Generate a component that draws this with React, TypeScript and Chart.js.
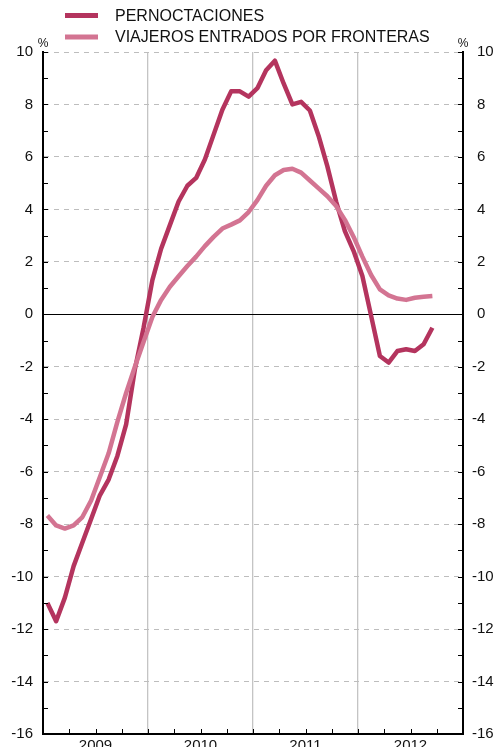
import React, { useEffect, useRef } from 'react';
import { Chart, registerables } from 'chart.js';

Chart.register(...registerables);

const years = ['2009', '2010', '2011', '2012'];
const seriesNames = ['PERNOCTACIONES', 'VIAJEROS ENTRADOS POR FRONTERAS'];
// Monthly values from Jan 2009 to Sep 2012 (%)
const pernoctaciones = [
  -11.0, -11.7, -10.8, -9.6, -8.7, -7.8, -6.9, -6.3, -5.4, -4.2, -2.1, -0.5,
  1.3, 2.5, 3.4, 4.3, 4.9, 5.2, 5.9, 6.85, 7.8, 8.5, 8.5, 8.3,
  8.62, 9.3, 9.67, 8.8, 8.0, 8.1, 7.77, 6.8, 5.64, 4.3, 3.17, 2.41,
  1.46, -0.06, -1.59, -1.84, -1.4, -1.33, -1.4, -1.14, -0.51,
];
const viajeros = [
  -7.67, -8.05, -8.17, -8.05, -7.73, -7.1, -6.2, -5.3, -4.1, -3.0, -2.0, -1.05,
  -0.1, 0.55, 1.05, 1.45, 1.84, 2.2, 2.6, 2.95, 3.27, 3.42, 3.58, 3.9,
  4.35, 4.9, 5.3, 5.5, 5.55, 5.4, 5.1, 4.8, 4.5, 4.13, 3.6, 2.95,
  2.2, 1.5, 0.95, 0.72, 0.6, 0.55, 0.63, 0.67, 0.7,
];
const yMin = -16;
const yMax = 10;

const DARK = 'rgb(180,52,94)';
const LIGHT = 'rgb(211,116,146)';
const FONT = '"Liberation Sans", Arial, Helvetica, sans-serif';

const toPoints = (arr: number[]) => arr.map((v, i) => ({ x: i + 0.5, y: v }));

const decorPlugin = {
  id: 'decor',
  beforeDatasetsDraw(chart: any) {
    const { ctx, chartArea, scales } = chart;
    const y0 = scales.y.getPixelForValue(0);
    ctx.save();
    ctx.strokeStyle = '#000';
    ctx.lineWidth = 1;
    ctx.beginPath();
    ctx.moveTo(chartArea.left, Math.round(y0) + 0.5);
    ctx.lineTo(chartArea.right, Math.round(y0) + 0.5);
    ctx.stroke();
    ctx.restore();
  },
  afterDraw(chart: any) {
    const { ctx, chartArea, scales } = chart;
    ctx.save();
    ctx.strokeStyle = '#000';
    ctx.lineWidth = 1;
    for (let v = yMin + 1; v <= yMax; v++) {
      const py = Math.round(scales.y.getPixelForValue(v)) + 0.5;
      ctx.beginPath();
      ctx.moveTo(chartArea.left, py);
      ctx.lineTo(chartArea.left + 5, py);
      ctx.moveTo(chartArea.right - 5, py);
      ctx.lineTo(chartArea.right, py);
      ctx.stroke();
    }
    for (let q = 3; q < 48; q += 3) {
      const px = Math.round(scales.x.getPixelForValue(q)) + 0.5;
      ctx.beginPath();
      ctx.moveTo(px, chartArea.bottom);
      ctx.lineTo(px, chartArea.bottom - 5);
      ctx.stroke();
    }
    ctx.fillStyle = '#111';
    ctx.font = `15px ${FONT}`;
    ctx.textAlign = 'left';
    ctx.textBaseline = 'middle';
    const minusW = ctx.measureText('-').width;
    scales.y2.ticks.forEach((t: any) => {
      if (t.value % 2 !== 0) return;
      const py = scales.y2.getPixelForValue(t.value);
      const x = chartArea.right + 14 - (t.value < 0 ? minusW : 0);
      ctx.fillText(String(t.value), x, py);
    });
    ctx.font = `12px ${FONT}`;
    ctx.textAlign = 'center';
    ctx.fillText('%', chartArea.left, 44);
    ctx.fillText('%', chartArea.right, 44);
    const rows = [
      { name: seriesNames[0], color: DARK, y: 15.5 },
      { name: seriesNames[1], color: LIGHT, y: 37 },
    ];
    ctx.font = `16px ${FONT}`;
    ctx.textAlign = 'left';
    rows.forEach((r) => {
      ctx.strokeStyle = r.color;
      ctx.lineWidth = 5;
      ctx.beginPath();
      ctx.moveTo(65, r.y);
      ctx.lineTo(98, r.y);
      ctx.stroke();
      ctx.fillStyle = '#111';
      ctx.fillText(r.name, 115, r.y + 1);
    });
    ctx.restore();
  },
};

export default function App() {
  const ref = useRef<HTMLCanvasElement>(null);
  useEffect(() => {
    document.body.style.margin = '0';
    const canvas = ref.current;
    if (!canvas) return;
    const chart = new Chart(canvas, {
      type: 'line',
      data: {
        datasets: [
          {
            label: seriesNames[0],
            data: toPoints(pernoctaciones),
            borderColor: DARK,
            borderWidth: 4.5,
            pointRadius: 0,
            tension: 0,
            borderJoinStyle: 'round',
            order: 1,
          },
          {
            label: seriesNames[1],
            data: toPoints(viajeros),
            borderColor: LIGHT,
            borderWidth: 4.5,
            pointRadius: 0,
            tension: 0,
            borderJoinStyle: 'round',
            order: 0,
          },
        ],
      },
      options: {
        responsive: false,
        animation: false,
        events: [],
        layout: { padding: { top: 52, bottom: 0, left: 0, right: 0 } },
        plugins: { legend: { display: false }, tooltip: { enabled: false } },
        scales: {
          x: {
            type: 'linear',
            min: 0,
            max: 48,
            afterFit: (s: any) => { s.height = 13; },
            ticks: {
              stepSize: 3,
              autoSkip: false,
              maxRotation: 0,
              padding: 3,
              color: '#111',
              font: { family: FONT, size: 15 },
              callback: (v: any) => (v % 12 === 6 ? years[(v - 6) / 12] : ''),
            },
            grid: {
              drawTicks: false,
              lineWidth: 1.3,
              color: (c: any) => {
                const v = c.tick ? c.tick.value : 0;
                return v % 12 === 0 && v > 0 && v < 48 ? '#c4c4c4' : 'transparent';
              },
            },
            border: { display: true, color: '#000', width: 2 },
          },
          y: {
            type: 'linear',
            position: 'left',
            min: yMin,
            max: yMax,
            afterFit: (s: any) => { s.width = 43; },
            ticks: {
              stepSize: 1,
              autoSkip: false,
              padding: 10,
              color: '#111',
              font: { family: FONT, size: 15 },
              callback: (v: any) => (v % 2 === 0 ? String(v) : ''),
            },
            grid: {
              drawTicks: false,
              lineWidth: 1,
              color: (c: any) => {
                const v = c.tick ? c.tick.value : 0;
                return v % 2 === 0 && v !== 0 && v !== yMin ? '#bdbdbd' : 'transparent';
              },
            },
            border: { display: true, color: '#000', width: 2, dash: [5, 5] },
          },
          y2: {
            type: 'linear',
            position: 'right',
            min: yMin,
            max: yMax,
            afterFit: (s: any) => { s.width = 34; },
            ticks: { stepSize: 1, autoSkip: false, display: false },
            grid: { display: false, drawTicks: false },
            border: { display: true, color: '#000', width: 2 },
          },
        },
      },
      plugins: [decorPlugin],
    } as any);
    return () => chart.destroy();
  }, []);
  return (
    <div style={{ position: 'absolute', left: 0, top: 0, width: 497, height: 753 }}>
      <canvas ref={ref} width={497} height={753} style={{ display: 'block' }} />
    </div>
  );
}
